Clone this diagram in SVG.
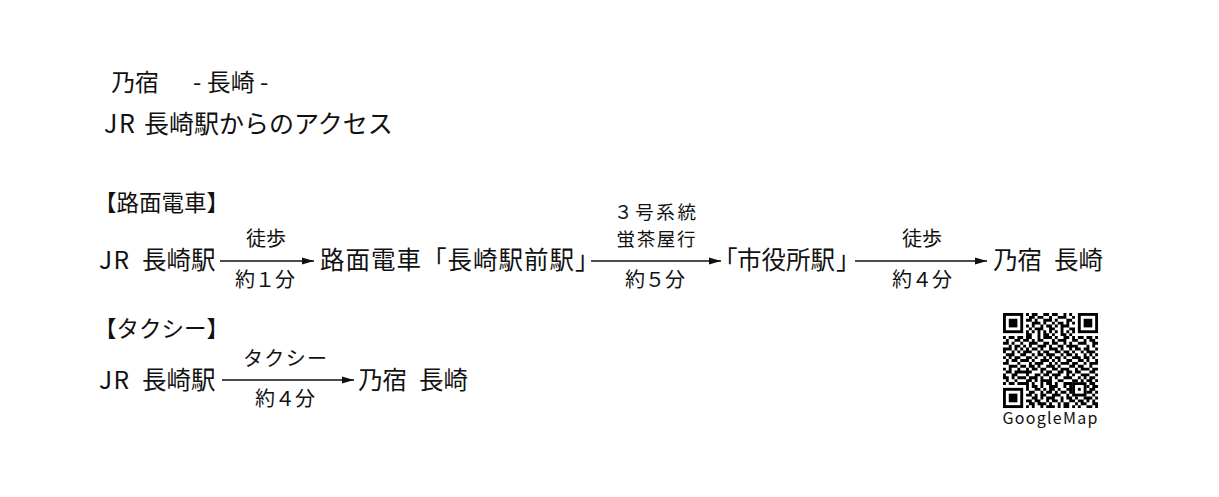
<svg xmlns="http://www.w3.org/2000/svg" width="1219" height="497" viewBox="0 0 1219 497">
<style>
text{font-family:"Noto Sans CJK JP","Noto Sans",sans-serif;fill:#111}
.m{font-size:24.5px}
.l{font-size:20px;text-anchor:middle}
.s{font-size:18.5px;text-anchor:middle}
.h{font-size:22.5px}
.ttl{font-size:24px}
.jr{letter-spacing:1.5px}
.c{stroke:#111;stroke-width:1.3;fill:none;marker-end:url(#ah)}
</style>
<defs>
<marker id="ah" markerUnits="userSpaceOnUse" markerWidth="13" markerHeight="8" refX="12" refY="4" orient="auto">
<path d="M0 0.6L12 4L0 7.4z" fill="#111"/>
</marker>
</defs>
<rect width="1219" height="497" fill="#fff"/>
<g id="title">
<text class="ttl" x="111" y="91">乃宿<tspan x="193">- 長崎 -</tspan></text>
<text class="ttl" x="104" y="133" style="font-size:25px"><tspan class="jr">JR</tspan> <tspan x="144">長崎駅からのアクセス</tspan></text>
</g>
<g id="heading-tram"><text class="h" x="94" y="211">【路面電車】</text></g>
<g id="heading-taxi"><text class="h" x="94" y="337">【タクシー】</text></g>
<g id="n-jr1"><text class="m" x="99" y="269"><tspan class="jr">JR</tspan> <tspan x="142">長崎駅</tspan></text></g>
<g id="n-tram"><text class="m" x="320" y="269" style="letter-spacing:1px">路面電車「長崎駅前駅」</text></g>
<g id="n-city"><text class="m" x="713" y="269">「<tspan x="737">市役所駅</tspan><tspan x="836">」</tspan></text></g>
<g id="n-dest1"><text class="m" x="993" y="269">乃宿 <tspan x="1054">長崎</tspan></text></g>
<g id="n-jr2"><text class="m" x="99" y="389"><tspan class="jr">JR</tspan> <tspan x="142">長崎駅</tspan></text></g>
<g id="n-dest2"><text class="m" x="358" y="389">乃宿 <tspan x="419">長崎</tspan></text></g>
<g id="connectors">
<line class="c" x1="220" y1="261" x2="314" y2="261"/>
<line class="c" x1="591" y1="261" x2="721" y2="261"/>
<line class="c" x1="855" y1="261" x2="987" y2="261"/>
<line class="c" x1="222" y1="380" x2="354" y2="380"/>
<text class="l" x="266" y="246">徒歩</text>
<text class="l" x="265" y="287">約１分</text>
<text class="s" x="655" y="219" textLength="82" lengthAdjust="spacing">３号系統</text>
<text class="s" x="656" y="246" textLength="79" lengthAdjust="spacing">蛍茶屋行</text>
<text class="l" x="655" y="287">約５分</text>
<text class="l" x="922" y="246">徒歩</text>
<text class="l" x="922" y="287">約４分</text>
<text class="l" x="285" y="366" textLength="84" lengthAdjust="spacing">タクシー</text>
<text class="l" x="285" y="406">約４分</text>
</g>
<g id="qr">
<g transform="translate(1003 313) scale(2.88)" fill="none" stroke="#000">
<rect x="0.5" y="0.5" width="6" height="6" stroke-width="1"/>
<rect x="26.5" y="0.5" width="6" height="6" stroke-width="1"/>
<rect x="0.5" y="26.5" width="6" height="6" stroke-width="1"/>
<rect x="24.5" y="24.5" width="4" height="4" stroke-width="1"/>
<rect x="2" y="2" width="3" height="3" fill="#000" stroke="none"/>
<rect x="28" y="2" width="3" height="3" fill="#000" stroke="none"/>
<rect x="2" y="28" width="3" height="3" fill="#000" stroke="none"/>
<rect x="26" y="26" width="1" height="1" fill="#000" stroke="none"/>
<path stroke-width="1" d="M8 .5h1M10 .5h2M14 .5h2M17 .5h2M21 .5h1M23 .5h1
M9 1.5h2M12 1.5h2M16 1.5h1M19 1.5h3M24 1.5h1
M8 2.5h2M11 2.5h1M14 2.5h3M18 2.5h1M22 2.5h2
M10 3.5h3M14 3.5h1M17 3.5h1M19 3.5h2M22 3.5h1M24 3.5h1
M8 4.5h1M10 4.5h1M13 4.5h1M15 4.5h2M18 4.5h1M20 4.5h3
M9 5.5h1M11 5.5h3M16 5.5h2M20 5.5h1M23 5.5h2
M8 6.5h1M10 6.5h1M12 6.5h1M14 6.5h1M16 6.5h1M18 6.5h1M20 6.5h1M22 6.5h1M24 6.5h1
M8 7.5h2M12 7.5h1M14 7.5h2M17 7.5h1M20 7.5h2M23 7.5h1
M0 8.5h1M2 8.5h2M5 8.5h2M8 8.5h2M12 8.5h1M14 8.5h3M18 8.5h1M21 8.5h2M24 8.5h1M26 8.5h2M29 8.5h2M32 8.5h1
M1 9.5h1M4 9.5h2M7 9.5h2M10 9.5h1M12 9.5h2M17 9.5h1M19 9.5h3M24 9.5h2M28 9.5h1M30 9.5h2
M0 10.5h2M3 10.5h1M6 10.5h1M9 10.5h3M14 10.5h2M17 10.5h2M21 10.5h1M23 10.5h1M26 10.5h3M31 10.5h2
M2 11.5h1M4 11.5h2M7 11.5h1M9 11.5h1M12 11.5h3M16 11.5h1M19 11.5h2M22 11.5h4M29 11.5h1M31 11.5h1
M0 12.5h3M4 12.5h1M6 12.5h1M8 12.5h1M10 12.5h2M13 12.5h1M16 12.5h3M20 12.5h1M23 12.5h1M25 12.5h2M28 12.5h2M32 12.5h1
M0 13.5h1M3 13.5h1M5 13.5h1M7 13.5h3M12 13.5h1M14 13.5h2M18 13.5h2M21 13.5h2M24 13.5h1M27 13.5h1M29 13.5h3
M1 14.5h3M6 14.5h2M10 14.5h1M12 14.5h2M15 14.5h3M20 14.5h1M22 14.5h2M25 14.5h1M28 14.5h1M30 14.5h1M32 14.5h1
M0 15.5h1M2 15.5h1M4 15.5h2M8 15.5h2M11 15.5h1M14 15.5h1M16 15.5h1M18 15.5h2M21 15.5h1M24 15.5h3M28 15.5h2M31 15.5h1
M1 16.5h1M3 16.5h2M6 16.5h3M10 16.5h1M13 16.5h3M17 16.5h1M19 16.5h1M22 16.5h2M26 16.5h2M29 16.5h1M32 16.5h1
M0 17.5h2M5 17.5h1M9 17.5h1M11 17.5h3M16 17.5h1M18 17.5h1M20 17.5h3M24 17.5h2M28 17.5h1M30 17.5h3
M2 18.5h3M6 18.5h2M9 18.5h2M12 18.5h1M15 18.5h3M19 18.5h1M23 18.5h2M26 18.5h2M30 18.5h1
M0 19.5h1M2 19.5h1M5 19.5h1M8 19.5h1M10 19.5h2M13 19.5h2M17 19.5h2M20 19.5h3M25 19.5h1M27 19.5h3M31 19.5h2
M1 20.5h2M4 20.5h6M13 20.5h1M15 20.5h2M19 20.5h2M22 20.5h2M25 20.5h2M30 20.5h2
M0 21.5h1M3 21.5h2M8 21.5h1M11 21.5h2M14 21.5h2M17 21.5h3M22 21.5h1M24 21.5h1M27 21.5h3M32 21.5h1
M0 22.5h2M3 22.5h1M5 22.5h3M9 22.5h3M13 22.5h1M16 22.5h1M18 22.5h1M21 22.5h3M26 22.5h1M28 22.5h1M30 22.5h2
M1 23.5h1M4 23.5h1M8 23.5h2M11 23.5h1M13 23.5h4M19 23.5h2M24 23.5h2M27 23.5h1M29 23.5h2M32 23.5h1
M0 24.5h1M2 24.5h2M5 24.5h4M10 24.5h1M13 24.5h1M15 24.5h2M18 24.5h1M21 24.5h3M30 24.5h2
M8 25.5h1M10 25.5h2M13 25.5h1M16 25.5h3M21 25.5h1M23 25.5h1M29 25.5h1M31 25.5h2
M8 26.5h1M11 26.5h2M14 26.5h1M16 26.5h2M19 26.5h1M22 26.5h2M30 26.5h2
M9 27.5h2M13 27.5h1M15 27.5h2M18 27.5h1M20 27.5h2M23 27.5h1M29 27.5h2M32 27.5h1
M8 28.5h2M11 28.5h1M13 28.5h2M17 28.5h3M22 28.5h1M31 28.5h1
M10 29.5h2M13 29.5h1M15 29.5h3M20 29.5h1M22 29.5h2M25 29.5h1M28 29.5h3M32 29.5h1
M8 30.5h2M11 30.5h2M15 30.5h1M17 30.5h2M20 30.5h1M23 30.5h2M26 30.5h2M29 30.5h1M31 30.5h1
M9 31.5h2M12 31.5h3M16 31.5h1M19 31.5h1M21 31.5h2M25 31.5h1M27 31.5h2M31 31.5h2
M8 32.5h1M10 32.5h1M13 32.5h1M15 32.5h3M19 32.5h1M21 32.5h2M24 32.5h1M26 32.5h1M29 32.5h2M32 32.5h1"/>
</g>
<text x="1050" y="424" style="font-size:16px;text-anchor:middle" textLength="95" lengthAdjust="spacing">GoogleMap</text>
</g>
</svg>
